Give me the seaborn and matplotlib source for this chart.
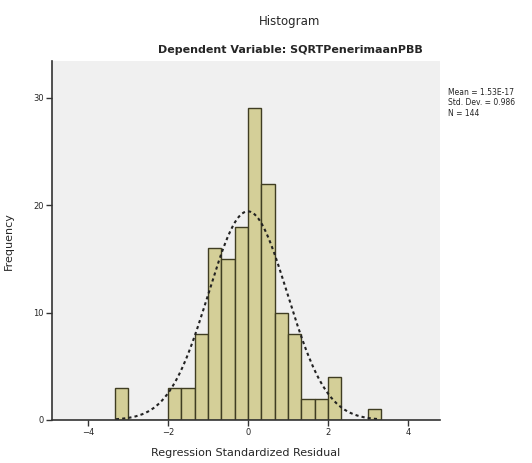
import numpy as np
import pandas as pd
import matplotlib
matplotlib.use("Agg")
import matplotlib.pyplot as plt
import seaborn as sns

# Data
bin_centers = [-3.1667, -1.8333, -1.5, -1.1667, -0.8333, -0.5, -0.1667,
               0.1667, 0.5, 0.8333, 1.1667, 1.5, 1.8333, 2.1667, 3.1667]
counts = [3, 3, 3, 8, 16, 15, 18, 29, 22, 10, 8, 2, 2, 4, 1]
bin_width = 1 / 3
mean_val = 0.0
sd_val = 0.986
n_val = 144
x_ticks = [-4, -2, 0, 2, 4]
y_ticks = [0, 10, 20, 30]
legend_lines = ["Mean = 1.53E-17", "Std. Dev. = 0.986", "N = 144"]

df = pd.DataFrame({"resid": bin_centers, "freq": counts})

sns.set_theme(style="white")
plt.rcParams["font.family"] = ["DejaVu Sans"]

fig = plt.figure(figsize=(5.32, 4.63), dpi=100)
ax = fig.add_axes([0.0977, 0.0929, 0.729, 0.775])
ax.set_facecolor("#F0F0F0")

sns.histplot(data=df, x="resid", weights="freq", binwidth=bin_width,
             binrange=(-10 * bin_width, 10 * bin_width), ax=ax,
             color="#D4CF98", edgecolor="#3F3D22", linewidth=1.0, alpha=1)

xs = np.linspace(-3.3, 3.3, 300)
ys = n_val * bin_width * np.exp(-0.5 * ((xs - mean_val) / sd_val) ** 2) / (sd_val * np.sqrt(2 * np.pi))
sns.lineplot(x=xs, y=ys, ax=ax, color="#222222", linestyle=(0, (1.5, 1.5)), linewidth=1.5)

ax.set_xlim(-4.9, 4.8)
ax.set_ylim(0, 33.4)
ax.set_xticks(x_ticks)
ax.set_yticks(y_ticks)
ax.tick_params(axis="both", labelsize=6, length=4, width=1, color="#333333",
               direction="out", bottom=True, left=True, pad=2)
for s in ["top", "right"]:
    ax.spines[s].set_visible(False)
for s in ["left", "bottom"]:
    ax.spines[s].set_color("#333333")
    ax.spines[s].set_linewidth(1.2)

ax.set_xlabel("Regression Standardized Residual", fontsize=8, labelpad=8)
ax.set_ylabel("Frequency", fontsize=8, labelpad=14)

fig.text(0.545, 0.953, "Histogram", ha="center", va="center", fontsize=8.5)
fig.text(0.545, 0.893, "Dependent Variable: SQRTPenerimaanPBB", ha="center", va="center",
         fontsize=8, fontweight="bold")

fig.text(0.842, 0.81, "\n".join(legend_lines), ha="left", va="top", fontsize=5.5,
         linespacing=1.2)

fig.savefig("out.png", dpi=100, facecolor="white")
